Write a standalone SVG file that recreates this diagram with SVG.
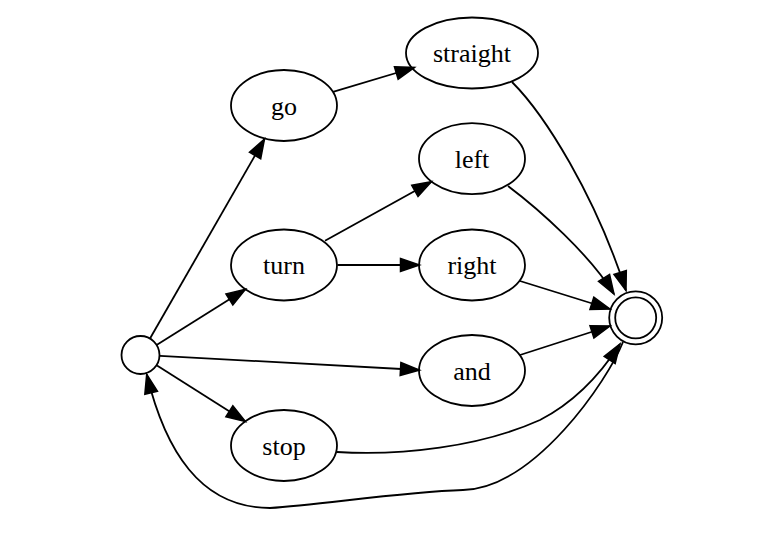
<svg xmlns="http://www.w3.org/2000/svg" width="774" height="539" viewBox="0 0 774 539">
<style>
.n{fill:none;stroke:#000;stroke-width:1.8}
.t{font-family:"Liberation Serif","Times New Roman",serif;font-size:26px;text-anchor:middle;fill:#000}
.e{fill:none;stroke:#000;stroke-width:1.8;marker-end:url(#ah)}
</style>
<defs>
<marker id="ah" markerUnits="userSpaceOnUse" markerWidth="24" markerHeight="18" refX="19" refY="7" orient="auto" overflow="visible">
<path d="M0,0.5 L19,7 L0,13.5 Z" fill="#000" stroke="#000" stroke-width="1.5" stroke-linejoin="miter"/>
</marker>
</defs>
<rect width="774" height="539" fill="#fff"/>
<g id="edges">
<path class="e" d="M150,338.5 L264.5,139"/>
<path class="e" d="M156.6,345 L245.5,289.3"/>
<path class="e" d="M160,355.8 L419.5,370"/>
<path class="e" d="M157,365.5 L245.4,421.5"/>
<path class="e" d="M333,91.8 L414.5,67.5"/>
<path class="e" d="M325,240.7 L431.5,181.7"/>
<path class="e" d="M337.5,265 L419.5,265"/>
<path class="e" d="M512,82 C545,115 595,195 626,290.5"/>
<path class="e" d="M508,186 C540,210 590,255 614,294"/>
<path class="e" d="M520,281 L610,309"/>
<path class="e" d="M520,355 L610,326"/>
<path class="e" d="M337,452 C400,456 480,447 540,420 C575,402 600,375 620,344"/>
<path class="e" d="M623,342 C608,380 535,488 463,490 C400,492 320,505 270,508 C200,508 165,450 146.7,374.3"/>
</g>
<g id="start"><circle class="n" cx="140.5" cy="355" r="19"/></g>
<g id="go"><ellipse class="n" cx="284" cy="105.5" rx="53" ry="35.5"/><text class="t" x="284" y="114.5">go</text></g>
<g id="straight"><ellipse class="n" cx="472" cy="53" rx="66" ry="35.5"/><text class="t" x="472" y="62">straight</text></g>
<g id="left"><ellipse class="n" cx="472" cy="158.7" rx="53" ry="35.5"/><text class="t" x="472" y="167.7">left</text></g>
<g id="turn"><ellipse class="n" cx="284" cy="265" rx="53" ry="35.5"/><text class="t" x="284" y="274">turn</text></g>
<g id="right"><ellipse class="n" cx="472" cy="265" rx="53" ry="35.5"/><text class="t" x="472" y="274">right</text></g>
<g id="and"><ellipse class="n" cx="472" cy="370.5" rx="53" ry="35.5"/><text class="t" x="472" y="379.5">and</text></g>
<g id="stop"><ellipse class="n" cx="284" cy="445.5" rx="53" ry="35.5"/><text class="t" x="284" y="454.5">stop</text></g>
<g id="final"><circle class="n" cx="635.7" cy="317.8" r="26.5"/><circle class="n" cx="635.7" cy="317.8" r="20.5"/></g>
</svg>
